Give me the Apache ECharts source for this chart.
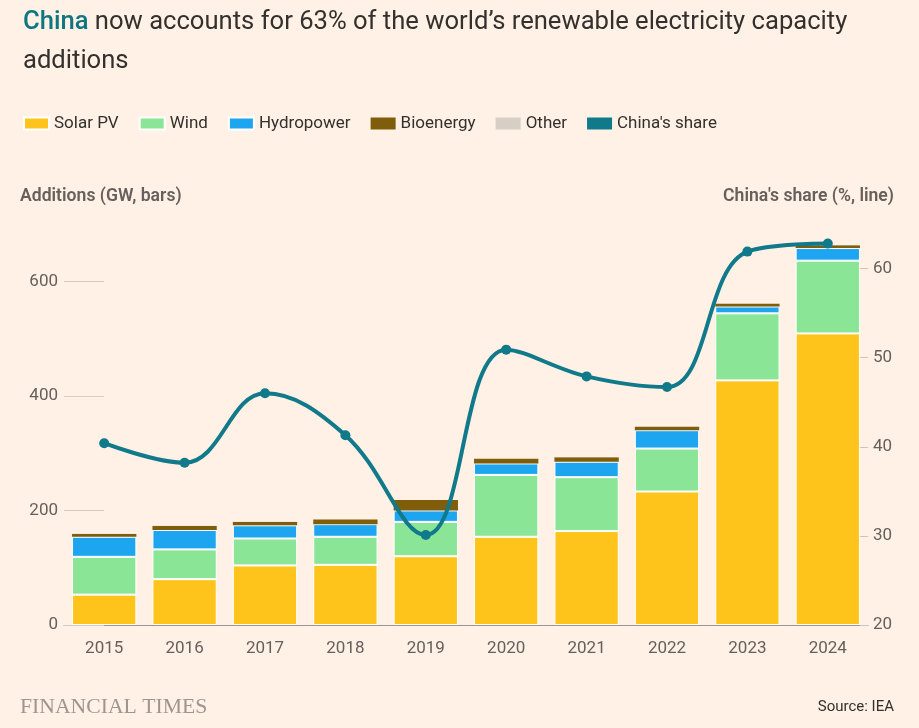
<!DOCTYPE html>
<html>
<head>
<meta charset="utf-8">
<script src="https://cdn.jsdelivr.net/npm/echarts@6/dist/echarts.min.js"></script>
<style>
html,body{margin:0;padding:0;background:#fff1e5;}
#chart{width:919px;height:728px;}
</style>
</head>
<body>
<div id="chart"></div>
<script>
const years = ['2015','2016','2017','2018','2019','2020','2021','2022','2023','2024'];
const solarPV    = [53, 80, 104, 105, 120, 154, 164, 233, 427, 509];
const wind       = [66, 52, 47, 49, 60, 108, 94, 75, 117, 127];
const hydropower = [35, 34, 23, 22, 20, 20, 27, 32, 12, 22];
const bioenergy  = [5, 7, 6, 8, 18, 8, 8, 6, 5, 5];
const other      = [0.3, 0.3, 0.3, 0.3, 0.3, 0.3, 0.3, 0.3, 0.3, 0.3];
const chinaShare = [40.4, 38.2, 46.0, 41.3, 30.1, 50.9, 47.9, 46.7, 61.9, 62.8];
const leftTicks  = [0, 200, 400, 600];
const rightTicks = [20, 30, 40, 50, 60];

const FONT = 'Roboto';
const colors = {
  solar: '#fec41b', wind: '#8ae596', hydro: '#1ea5ef', bio: '#7f5d0b', other: '#d7cec6', share: '#10798a'
};

const chart = echarts.init(document.getElementById('chart'), null, {renderer: 'canvas'});

function barSeries(name, data, color, bw) {
  return {
    name: name, type: 'bar', stack: 'add', data: data,
    barCategoryGap: '20%',
    itemStyle: {color: color, borderColor: '#ffffff', borderWidth: bw},
    emphasis: {disabled: true}
  };
}

chart.setOption({
  backgroundColor: '#fff1e5',
  textStyle: {fontFamily: FONT},
  animation: false,
  title: {
    text: '{c|China} now accounts for 63% of the world\u2019s renewable electricity capacity\nadditions',
    left: 18, top: -2,
    textStyle: {
      fontFamily: FONT, fontSize: 25.6, fontWeight: 'normal', color: '#33302e', lineHeight: 39,
      rich: {c: {fontFamily: FONT, fontSize: 25.6, fontWeight: 500, color: '#0f7680', lineHeight: 39}}
    }
  },
  legend: {
    left: 18, top: 110,
    icon: 'rect', itemWidth: 25, itemHeight: 12, itemGap: 20,
    textStyle: {fontFamily: FONT, fontSize: 17, color: '#33302e'},
    data: ['Solar PV', 'Wind', 'Hydropower', 'Bioenergy', 'Other', "China's share"]
  },
  grid: {left: 64, right: 51, top: 224, bottom: 103, containLabel: false},
  xAxis: {
    type: 'category', data: years,
    axisLine: {lineStyle: {color: '#9e968f', width: 1}},
    axisTick: {alignWithLabel: true, length: 7, lineStyle: {color: '#9e968f'}},
    axisLabel: {fontFamily: FONT, fontSize: 17, color: '#66605c', margin: 15}
  },
  yAxis: [
    {
      type: 'value', min: 0, max: 700, position: 'left',
      axisLine: {show: false},
      axisTick: {show: true, inside: true, length: 40, customValues: leftTicks, lineStyle: {color: '#d8ccc2'}},
      axisLabel: {fontFamily: FONT, fontSize: 17, color: '#66605c', margin: 6, customValues: leftTicks},
      splitLine: {show: false}
    },
    {
      type: 'value', min: 20, max: 65, position: 'right', offset: -8,
      axisLine: {show: false},
      axisTick: {show: true, length: 8, customValues: rightTicks, lineStyle: {color: '#cfc4ba'}},
      axisLabel: {fontFamily: FONT, fontSize: 17, color: '#66605c', margin: 13, customValues: rightTicks},
      splitLine: {show: false}
    }
  ],
  series: [
    barSeries('Solar PV', solarPV, colors.solar, 1),
    barSeries('Wind', wind, colors.wind, 1),
    barSeries('Hydropower', hydropower, colors.hydro, 1),
    barSeries('Bioenergy', bioenergy, colors.bio, 0),
    barSeries('Other', other, colors.other, 0),
    {
      name: "China's share", type: 'line', yAxisIndex: 1, data: chinaShare,
      smooth: 0.4, symbol: 'circle', symbolSize: 10, z: 10,
      itemStyle: {color: colors.share},
      lineStyle: {color: colors.share, width: 4},
      emphasis: {disabled: true}
    }
  ],
  graphic: [
    {type: 'text', left: 20, top: 188, style: {text: 'Additions (GW, bars)', fontFamily: FONT, fontSize: 17.6, fontWeight: 600, fill: '#66605c'}},
    {type: 'text', right: 25, top: 188, style: {text: "China's share (%, line)", fontFamily: FONT, fontSize: 17.6, fontWeight: 600, fill: '#66605c'}},
    {type: 'text', left: 20, top: 696, style: {text: 'FINANCIAL TIMES', fontFamily: 'Liberation Serif', fontSize: 21.7, fill: '#9e958e'}},
    {type: 'text', right: 25, top: 700, style: {text: 'Source: IEA', fontFamily: FONT, fontSize: 15, fill: '#33302e'}}
  ]
});
</script>
</body>
</html>
